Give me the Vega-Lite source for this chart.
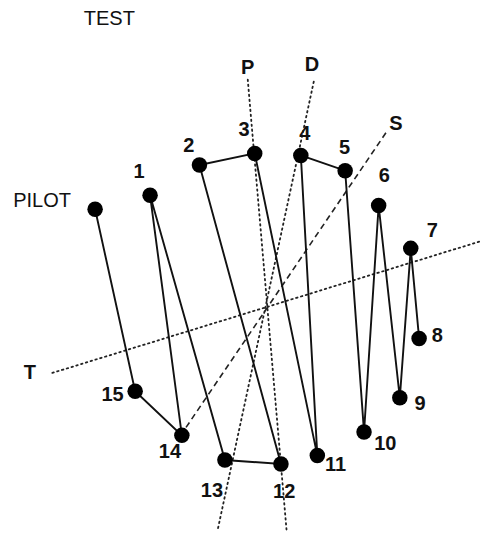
{
  "$schema": "https://vega.github.io/schema/vega-lite/v6.json",
  "width": 486,
  "height": 536,
  "autosize": {"type": "fit", "contains": "padding"},
  "padding": 0,
  "background": "white",
  "config": {"view": {"stroke": null}},
  "datasets": {
    "points": [
      {"seq": 0, "name": "PILOT", "x": 95.7, "y": 210},
      {"seq": 1, "name": "15", "x": 136, "y": 392.7},
      {"seq": 2, "name": "14", "x": 183, "y": 437},
      {"seq": 3, "name": "1", "x": 151, "y": 196},
      {"seq": 4, "name": "13", "x": 226.3, "y": 461.7},
      {"seq": 5, "name": "12", "x": 282.7, "y": 465.7},
      {"seq": 6, "name": "2", "x": 200.7, "y": 165.7},
      {"seq": 7, "name": "3", "x": 256.3, "y": 154},
      {"seq": 8, "name": "11", "x": 319.3, "y": 457.3},
      {"seq": 9, "name": "4", "x": 302.7, "y": 156},
      {"seq": 10, "name": "5", "x": 347.3, "y": 171.3},
      {"seq": 11, "name": "10", "x": 366.3, "y": 433.7},
      {"seq": 12, "name": "6", "x": 381, "y": 206.3},
      {"seq": 13, "name": "9", "x": 402.3, "y": 399.3},
      {"seq": 14, "name": "7", "x": 413.3, "y": 249.3},
      {"seq": 15, "name": "8", "x": 421.7, "y": 339.7}
    ],
    "guides": [
      {"line": "P", "seq": 0, "x": 249.3, "y": 80},
      {"line": "P", "seq": 1, "x": 288.5, "y": 534},
      {"line": "D", "seq": 0, "x": 315.7, "y": 82},
      {"line": "D", "seq": 1, "x": 219, "y": 532},
      {"line": "T", "seq": 0, "x": 52.7, "y": 374.3},
      {"line": "T", "seq": 1, "x": 485, "y": 241.7},
      {"line": "S", "seq": 0, "x": 388.3, "y": 133.3},
      {"line": "S", "seq": 1, "x": 186.7, "y": 429.7}
    ],
    "labels": [
      {"kind": "number", "text": "1", "x": 140, "y": 172.7},
      {"kind": "number", "text": "2", "x": 190, "y": 146.7},
      {"kind": "number", "text": "3", "x": 245.7, "y": 130.7},
      {"kind": "number", "text": "4", "x": 306.7, "y": 134},
      {"kind": "number", "text": "5", "x": 346.7, "y": 149},
      {"kind": "number", "text": "6", "x": 386.7, "y": 176.7},
      {"kind": "number", "text": "7", "x": 435, "y": 231.7},
      {"kind": "number", "text": "8", "x": 440, "y": 337.7},
      {"kind": "number", "text": "9", "x": 422.7, "y": 406},
      {"kind": "number", "text": "10", "x": 387.7, "y": 446},
      {"kind": "number", "text": "11", "x": 337.7, "y": 467},
      {"kind": "number", "text": "12", "x": 286, "y": 493.7},
      {"kind": "number", "text": "13", "x": 213.3, "y": 492.7},
      {"kind": "number", "text": "14", "x": 171, "y": 453.7},
      {"kind": "number", "text": "15", "x": 113.3, "y": 396},
      {"kind": "guide", "text": "P", "x": 249.3, "y": 68.3},
      {"kind": "guide", "text": "D", "x": 314, "y": 65},
      {"kind": "guide", "text": "S", "x": 398.3, "y": 124.3},
      {"kind": "guide", "text": "T", "x": 30, "y": 374.3},
      {"kind": "title", "text": "PILOT", "x": 42.3, "y": 201.7},
      {"kind": "title", "text": "TEST", "x": 110, "y": 19.5}
    ]
  },
  "encoding": {
    "x": {"field": "x", "type": "quantitative", "scale": {"domain": [0, 486], "nice": false, "zero": false}, "axis": null},
    "y": {"field": "y", "type": "quantitative", "scale": {"domain": [0, 536], "nice": false, "zero": false, "reverse": true}, "axis": null}
  },
  "layer": [
    {
      "data": {"name": "guides"},
      "transform": [{"filter": "datum.line !== 'S'"}],
      "mark": {"type": "line", "color": "#222", "strokeWidth": 1.8, "strokeDash": [1.5, 3.5], "strokeCap": "round"},
      "encoding": {"detail": {"field": "line"}, "order": {"field": "seq"}}
    },
    {
      "data": {"name": "guides"},
      "transform": [{"filter": "datum.line === 'S'"}],
      "mark": {"type": "line", "color": "#222", "strokeWidth": 1.6, "strokeDash": [6, 4]},
      "encoding": {"detail": {"field": "line"}, "order": {"field": "seq"}}
    },
    {
      "data": {"name": "points"},
      "mark": {"type": "line", "color": "#111", "strokeWidth": 1.9},
      "encoding": {"order": {"field": "seq"}}
    },
    {
      "data": {"name": "points"},
      "mark": {"type": "circle", "color": "#000", "opacity": 1, "size": 240}
    },
    {
      "data": {"name": "labels"},
      "transform": [{"filter": "datum.kind !== 'title'"}],
      "mark": {"type": "text", "font": "Liberation Sans", "fontSize": 20, "fontWeight": "bold", "color": "#111", "align": "center", "baseline": "middle"},
      "encoding": {"text": {"field": "text"}}
    },
    {
      "data": {"name": "labels"},
      "transform": [{"filter": "datum.kind === 'title'"}],
      "mark": {"type": "text", "font": "Liberation Sans", "fontSize": 20, "color": "#111", "align": "center", "baseline": "middle"},
      "encoding": {"text": {"field": "text"}}
    }
  ]
}
